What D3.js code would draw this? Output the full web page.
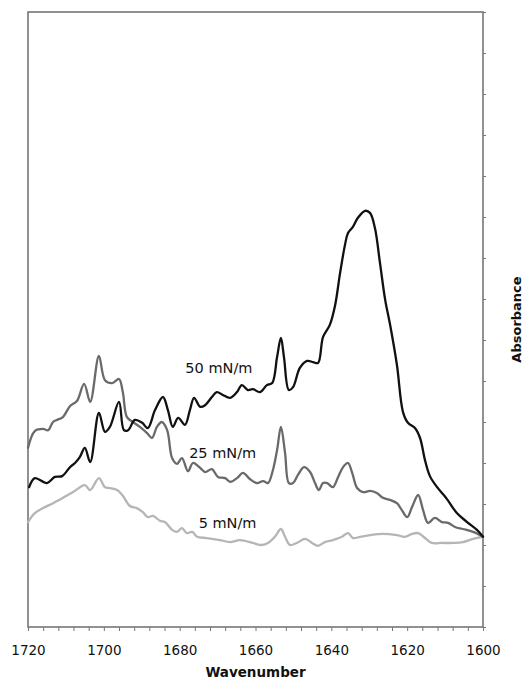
<!DOCTYPE html>
<html>
<head>
<meta charset="utf-8">
<script src="https://cdn.jsdelivr.net/npm/d3@7"></script>
<style>
  html, body { margin: 0; padding: 0; background: #fff; }
  svg { display: block; }
</style>
</head>
<body>
<svg id="chart" width="524" height="679"></svg>
<script>
// IR amide I region spectra at three surface pressures (arbitrary absorbance units)
const wavenumberTicks = [1720, 1700, 1680, 1660, 1640, 1620, 1600];

const wn50 = [1719.7, 1718.2, 1715.0, 1712.9, 1711.0, 1708.9, 1707.6, 1706.3, 1705.0, 1703.6,
  1701.3, 1699.7, 1698.4, 1696.0, 1694.7, 1693.6, 1691.8, 1689.9, 1688.4, 1686.5,
  1684.4, 1683.1, 1681.8, 1680.4, 1678.6, 1677.3, 1676.2, 1674.6, 1673.3,
  1671.5, 1670.2, 1668.6, 1666.7, 1664.9, 1663.6, 1662.0, 1660.7, 1658.8, 1657.0,
  1655.6, 1654.3, 1653.3, 1652.5, 1651.2, 1650.1, 1648.3, 1646.4, 1644.8, 1643.5,
  1642.2, 1640.4, 1639.0, 1637.7, 1636.4, 1635.6, 1634.3, 1633.0, 1631.1, 1629.8,
  1628.5, 1627.2, 1625.8, 1624.5, 1622.7, 1621.1, 1619.8, 1617.9, 1616.6, 1615.3,
  1614.0, 1612.1, 1609.5, 1606.9, 1604.2, 1601.6, 1600.0];
const abs50 = [3.41, 3.63, 3.51, 3.66, 3.68, 3.90, 4.00, 4.15, 4.37, 4.02,
  5.22, 4.76, 4.88, 5.49, 4.80, 4.80, 5.05, 4.98, 4.85, 5.29,
  5.61, 5.29, 4.88, 5.10, 4.93, 5.29, 5.59, 5.37, 5.41,
  5.61, 5.73, 5.66, 5.59, 5.73, 5.90, 5.78, 5.80, 5.73, 5.90,
  5.95, 6.59, 7.05, 6.59, 5.78, 5.85, 6.32, 6.49, 6.46, 6.44,
  7.07, 7.37, 7.85, 8.63, 9.32, 9.61, 9.76, 9.98, 10.15, 10.10,
  9.73, 8.90, 7.98, 7.37, 6.39, 5.24, 4.98, 4.85, 4.61, 4.07,
  3.68, 3.41, 3.12, 2.78, 2.56, 2.37, 2.20];

const wn25 = [1720.0, 1718.2, 1716.0, 1714.7, 1713.4, 1712.4, 1710.8, 1708.9, 1707.1, 1705.2,
  1703.6, 1701.3, 1699.7, 1697.8, 1696.0, 1695.0, 1693.9, 1692.3, 1690.5, 1688.6,
  1687.3, 1686.0, 1684.7, 1683.3, 1682.0, 1680.7, 1679.4, 1677.8, 1676.5,
  1674.6, 1673.3, 1671.5, 1669.9, 1668.0, 1666.7, 1664.9, 1663.3, 1661.5, 1659.6,
  1658.0, 1656.7, 1655.4, 1654.3, 1653.3, 1652.2, 1651.2, 1650.1, 1648.8, 1647.2,
  1645.6, 1644.3, 1643.3, 1642.2, 1641.1, 1639.6, 1638.2, 1636.9, 1635.6, 1634.5,
  1633.2, 1631.6, 1629.8, 1628.0, 1626.4, 1624.5, 1622.7, 1621.4, 1620.0, 1618.7,
  1617.1, 1615.8, 1614.5, 1612.7, 1610.8, 1609.2, 1607.4, 1605.3, 1602.6, 1600.0];
const abs25 = [4.37, 4.78, 4.83, 4.80, 5.00, 5.05, 5.12, 5.39, 5.51, 5.93,
  5.49, 6.61, 6.02, 5.95, 6.05, 5.73, 5.12, 5.00, 4.88, 4.73,
  4.61, 4.88, 5.00, 4.80, 4.12, 3.98, 4.12, 3.80, 4.00,
  3.88, 3.78, 3.85, 3.66, 3.63, 3.54, 3.63, 3.76, 3.61, 3.51,
  3.56, 3.51, 3.83, 4.32, 4.88, 4.24, 3.51, 3.51, 3.71, 3.90,
  3.78, 3.51, 3.34, 3.51, 3.51, 3.41, 3.66, 3.90, 4.00, 3.76,
  3.39, 3.29, 3.32, 3.27, 3.15, 3.10, 3.02, 2.85, 2.68, 2.93,
  3.22, 2.85, 2.54, 2.66, 2.56, 2.54, 2.44, 2.39, 2.32, 2.20];

const wn5 = [1720.0, 1718.2, 1716.0, 1713.4, 1710.8, 1708.1, 1705.0, 1703.6, 1701.3, 1699.7,
  1698.4, 1696.5, 1695.0, 1693.1, 1691.3, 1689.7, 1688.4, 1687.0, 1685.2, 1683.9,
  1682.0, 1680.7, 1679.4, 1678.1, 1676.7, 1675.4, 1672.8, 1669.4, 1666.7, 1664.1,
  1660.7, 1658.8, 1656.7, 1654.9, 1653.3, 1652.2, 1650.9, 1649.1, 1646.9, 1645.1,
  1643.5, 1641.7, 1639.6, 1637.2, 1635.6, 1634.3, 1632.4, 1629.8, 1626.4, 1622.7,
  1620.6, 1618.7, 1617.1, 1615.3, 1613.5, 1610.8, 1607.9, 1605.3, 1602.6, 1600.0];
const abs5 = [2.56, 2.78, 2.90, 3.02, 3.15, 3.29, 3.46, 3.34, 3.63, 3.41,
  3.39, 3.34, 3.20, 2.95, 2.90, 2.80, 2.68, 2.71, 2.59, 2.56,
  2.37, 2.32, 2.41, 2.29, 2.32, 2.20, 2.17, 2.12, 2.07, 2.12,
  2.05, 2.00, 2.05, 2.20, 2.39, 2.20, 2.00, 2.05, 2.15, 2.05,
  1.98, 2.07, 2.12, 2.20, 2.29, 2.17, 2.20, 2.24, 2.27, 2.24,
  2.20, 2.27, 2.29, 2.17, 2.05, 2.05, 2.05, 2.07, 2.15, 2.20];

const seriesNames = ["5 mN/m", "25 mN/m", "50 mN/m"];
const seriesColors = ["#b5b5b5", "#6a6a6a", "#111111"];

const series = [
  { name: seriesNames[0], color: seriesColors[0], wn: wn5, abs: abs5, labelAt: [1675.0, 2.42] },
  { name: seriesNames[1], color: seriesColors[1], wn: wn25, abs: abs25, labelAt: [1677.5, 4.11] },
  { name: seriesNames[2], color: seriesColors[2], wn: wn50, abs: abs50, labelAt: [1678.5, 6.19] }
];

const margin = { top: 12, right: 41, bottom: 52, left: 28 };
const W = 524, H = 679;
const iw = W - margin.left - margin.right;
const ih = H - margin.top - margin.bottom;

const svg = d3.select("#chart");
const g = svg.append("g").attr("transform", `translate(${margin.left},${margin.top})`);

const x = d3.scaleLinear().domain([1720, 1600]).range([0, iw]);
const y = d3.scaleLinear().domain([0, 15]).range([ih, 0]);

const axisColor = "#767676";
const fontFamily = "'DejaVu Sans', Verdana, sans-serif";

// bottom axis: minor ticks every 4 cm-1, labels every 20
const minorTicks = d3.range(1720, 1599, -4);
const xAxis = d3.axisBottom(x)
  .tickValues(minorTicks)
  .tickSize(4)
  .tickSizeOuter(0)
  .tickFormat(d => wavenumberTicks.includes(d) ? d3.format("d")(d) : "");
const gx = g.append("g").attr("transform", `translate(0,${ih})`).call(xAxis);
gx.select(".domain").remove();
gx.selectAll(".tick line").attr("stroke", axisColor).attr("stroke-width", 1);
gx.selectAll(".tick text")
  .attr("y", 18)
  .attr("fill", "#111")
  .style("font-family", fontFamily)
  .style("font-size", "13.5px");

// right axis: unlabelled ticks
const yAxis = d3.axisRight(y).ticks(15).tickSize(3).tickSizeOuter(0).tickFormat("");
const gy = g.append("g").attr("transform", `translate(${iw},0)`).call(yAxis);
gy.select(".domain").remove();
gy.selectAll(".tick line").attr("stroke", axisColor).attr("stroke-width", 1);

// plot frame
g.append("rect")
  .attr("x", 0).attr("y", 0)
  .attr("width", iw).attr("height", ih)
  .attr("fill", "none")
  .attr("stroke", axisColor)
  .attr("stroke-width", 1.6);

// spectra
const line = d3.line()
  .x(d => x(d[0]))
  .y(d => y(d[1]))
  .curve(d3.curveCatmullRom.alpha(0.5));

series.forEach(s => {
  const pts = s.wn.map((w, i) => [w, s.abs[i]]);
  g.append("path")
    .datum(pts)
    .attr("d", line)
    .attr("fill", "none")
    .attr("stroke", s.color)
    .attr("stroke-width", 2.3)
    .attr("stroke-linejoin", "round")
    .attr("stroke-linecap", "round");
});

// series labels
series.forEach(s => {
  g.append("text")
    .attr("x", x(s.labelAt[0]))
    .attr("y", y(s.labelAt[1]))
    .attr("fill", "#111")
    .style("font-family", fontFamily)
    .style("font-size", "14.5px")
    .text(s.name);
});

// axis titles
svg.append("text")
  .attr("x", margin.left + iw / 2)
  .attr("y", 677)
  .attr("text-anchor", "middle")
  .attr("fill", "#111")
  .style("font-family", fontFamily)
  .style("font-size", "13.5px")
  .style("font-weight", "bold")
  .text("Wavenumber");

svg.append("text")
  .attr("transform", `translate(521,${margin.top + ih / 2}) rotate(-90)`)
  .attr("text-anchor", "middle")
  .attr("fill", "#111")
  .style("font-family", fontFamily)
  .style("font-size", "13px")
  .style("font-weight", "bold")
  .text("Absorbance");
</script>
</body>
</html>
